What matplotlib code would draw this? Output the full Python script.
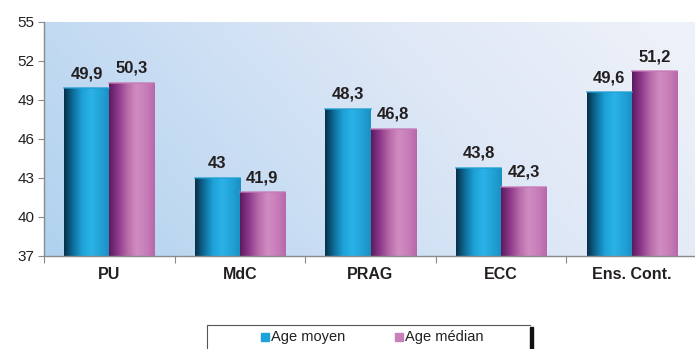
import numpy as np
import matplotlib.pyplot as plt
from matplotlib.colors import LinearSegmentedColormap

plt.rcParams['font.family'] = ['Liberation Sans', 'DejaVu Sans']

categories = ['PU', 'MdC', 'PRAG', 'ECC', 'Ens. Cont.']
age_moyen = [49.9, 43.0, 48.3, 43.8, 49.6]
age_median = [50.3, 41.9, 46.8, 42.3, 51.2]
series_names = ['Age moyen', 'Age médian']
yticks = [37, 40, 43, 46, 49, 52, 55]


def fmt(v):
    s = ('%.1f' % v).replace('.', ',')
    return s[:-2] if s.endswith(',0') else s


# cylinder-like shading across each bar
blue_cmap = LinearSegmentedColormap.from_list(
    'cyl_blue', ['#06304a', '#0f6f9c', '#1ea3d9', '#2bb2e8', '#22a3d8', '#1a8fc2'])
pink_cmap = LinearSegmentedColormap.from_list(
    'cyl_pink', ['#5e1a5e', '#8e3a8c', '#b86aa8', '#d08dc2', '#c97fba', '#b868aa'])

fig = plt.figure(figsize=(6.95, 3.49), dpi=100)
ax = fig.add_axes([44 / 695, 93 / 349, 653 / 695, 234 / 349])

x = np.arange(len(categories))
w = 0.345
ax.set_xlim(-0.5, len(categories) - 0.5)
ax.set_ylim(37, 55)

# background gradient: blue on the left fading to pale on the right
gx, gy = np.meshgrid(np.linspace(0, 1, 300), np.linspace(0, 1, 100))
g = np.clip(0.8 * gx + 0.25 * gy, 0, 1)
bg_cmap = LinearSegmentedColormap.from_list('bg', ['#b0d2ee', '#c8ddf3', '#dfe8f6', '#edf1f9'])
ax.imshow(g, cmap=bg_cmap, aspect='auto', extent=(-0.5, len(categories) - 0.5, 37, 55),
          origin='lower', zorder=0)

grad = np.linspace(0, 1, 100).reshape(1, -1)
for vals, cmap, off in [(age_moyen, blue_cmap, -w / 2), (age_median, pink_cmap, w / 2)]:
    bars = ax.bar(x + off, vals, width=w, bottom=0, color='none', zorder=2)
    for b, v in zip(bars, vals):
        x0 = b.get_x()
        im = ax.imshow(grad, cmap=cmap, aspect='auto', extent=(x0, x0 + w, 37, v),
                       zorder=2, interpolation='bicubic')
        im.set_clip_path(b)
        ax.plot([x0, x0 + w], [v, v], color=cmap(0.85), lw=1.2, zorder=3, alpha=0.8)
        ax.text(x0 + w / 2, v + 0.55, fmt(v), ha='center', va='bottom',
                fontsize=12, fontweight='bold', color='#231f20', zorder=4)

ax.set_ylim(37, 55)
ax.set_xlim(-0.5, len(categories) - 0.5)
ax.set_yticks(yticks)
ax.set_yticklabels([str(t) for t in yticks], fontsize=11, color='#231f20')
ax.set_xticks(np.arange(-0.5, len(categories), 1.0))
ax.set_xticklabels([])
ax.set_xticks(x, minor=True)
ax.set_xticklabels(categories, minor=True, fontsize=11.5, fontweight='bold', color='#231f20')
ax.tick_params(axis='x', which='minor', length=0, pad=8)
ax.tick_params(axis='x', which='major', length=5, color='#8a8a8a', direction='out')
ax.tick_params(axis='y', length=4, color='#8a8a8a', direction='out', pad=3)
for s in ['top', 'right']:
    ax.spines[s].set_visible(False)
for s in ['left', 'bottom']:
    ax.spines[s].set_color('#8a8a8a')
    ax.spines[s].set_linewidth(1.0)

# legend box, open at the bottom with a dark shadow on the right
H = 349.0
fig.add_artist(plt.Line2D([207 / 695, 207 / 695, 530 / 695], [0, 1 - 325 / H, 1 - 325 / H],
                          transform=fig.transFigure, color='#555555', lw=0.8))
fig.add_artist(plt.Rectangle((530 / 695, 0), 3 / 695, 1 - 327 / H, transform=fig.transFigure,
                             color='#111111'))
for name, color, lx in [(series_names[0], '#1ea3d9', 261), (series_names[1], '#c97fba', 395)]:
    fig.add_artist(plt.Rectangle((lx / 695, 1 - 341 / H), 8 / 695, 8 / H,
                                 transform=fig.transFigure, color=color))
    fig.text((lx + 10) / 695, 1 - 337 / H, name, fontsize=10.5, color='#231f20',
             ha='left', va='center')

fig.savefig('out.png', dpi=100)
